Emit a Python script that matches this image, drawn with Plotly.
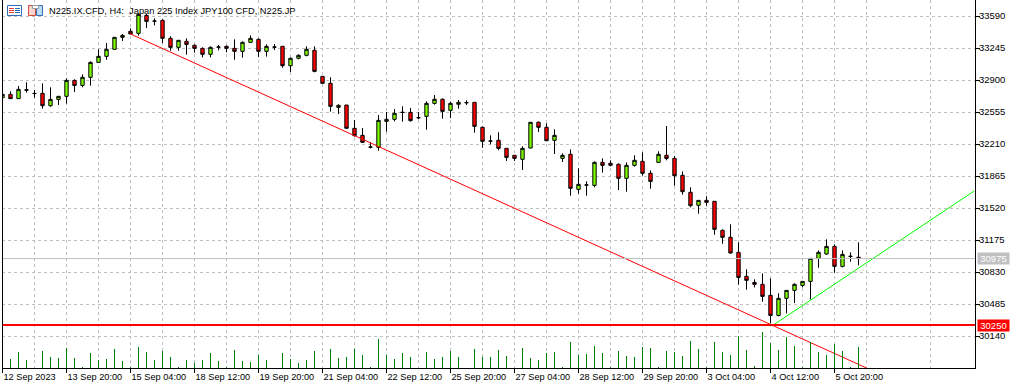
import plotly.graph_objects as go

opens = [32709,32745,32699,32796,32756,32756,32623,32691,32724,32896,32842,32929,33090,33155,33231,33360,33425,33403,33597,33536,33543,33349,33252,33317,33274,33241,33177,33256,33263,33241,33209,33306,33338,33209,33256,33263,33054,33134,33166,33220,32939,32864,32605,
32630,32379,32303,32178,32174,32454,32476,32552,32551,32495,32508,32648,32692,32573,32638,32657,32659,32390,32243,32250,32163,32088,32045,32167,32444,32390,32250,32055,32099,31721,31769,31764,32012,32002,31991,31840,31980,32023,31894,32012,32088,
32055,31872,31689,31549,31602,31592,31279,31204,31042,30783,30718,30697,30578,30362,30546,30632,30686,30729,30977,31024,31106,30891,31000,30989]
highs = [32745,32778,32835,32875,32792,32864,32821,32724,32918,32907,32961,33101,33231,33299,33360,33396,33457,33619,33612,33565,33554,33371,33328,33349,33284,33252,33263,33277,33274,33338,33317,33381,33349,33284,33288,33263,33144,33177,33263,33263,32939,32929,32637,
32630,32469,32382,32228,32523,32555,32587,32616,32598,32555,32670,32738,32702,32666,32684,32681,32659,32400,32303,32336,32163,32088,32185,32444,32454,32433,32368,32109,32152,31948,31807,32023,32055,32034,32002,32012,32088,32120,31926,32131,32404,
32080,31915,31743,31602,31646,31595,31290,31344,31150,30858,30751,30815,30761,30600,30632,30708,30729,30977,31063,31182,31128,31063,31042,31150]
lows = [32709,32699,32699,32764,32709,32591,32612,32630,32645,32771,32821,32839,33090,33119,33231,33320,33396,33378,33461,33489,33299,33216,33216,33173,33195,33144,33144,33220,33198,33119,33141,33306,33148,33152,33223,33033,32986,33123,33155,32983,32864,32559,32533,
32379,32289,32228,32163,32138,32343,32454,32451,32451,32476,32364,32634,32483,32490,32591,32630,32332,32170,32206,32142,32027,32027,31930,32163,32339,32239,32102,32016,31653,31674,31653,31743,31901,31969,31714,31696,31966,31869,31728,32009,32034,
31761,31664,31527,31459,31545,31232,31135,31027,30693,30639,30664,30510,30276,30352,30384,30495,30664,30535,30876,31017,30822,30880,30941,30902]
closes = [32745,32699,32799,32790,32754,32623,32691,32724,32896,32842,32929,33090,33155,33231,33360,33381,33396,33608,33532,33534,33349,33252,33328,33284,33241,33177,33252,33254,33241,33209,33306,33349,33209,33263,33254,33054,33134,33166,33231,32993,32864,32616,32627,
32379,32300,32228,32176,32465,32476,32541,32550,32462,32493,32648,32692,32562,32648,32659,32655,32400,32239,32241,32163,32066,32055,32163,32444,32390,32246,32303,32088,31732,31775,31767,32012,31980,31980,31840,31980,32034,31894,31807,32099,32055,
31868,31696,31545,31602,31581,31290,31204,31035,30772,30740,30697,30567,30362,30546,30632,30697,30729,30977,31042,31106,30891,31020,30998,30975]
volumes = [0,9,16,8,0,17,11,10,20,10,1,15,8,9,19,7,1,21,16,8,17,11,1,8,5,8,15,7,1,18,7,6,13,8,0,15,9,5,8,17,0,19,10,
11,19,13,1,29,13,9,15,11,0,16,9,11,17,11,0,19,11,11,18,12,0,20,10,8,15,16,1,26,13,14,22,15,1,17,12,11,21,20,1,17,16,
12,27,19,1,26,16,13,32,18,2,36,25,18,31,22,1,26,16,13,24,17,1,21]

bar_index = list(range(len(opens)))
time_tick_index = [0,8,16,24,32,40,48,56,64,72,80,88,96,104]
time_tick_labels = ["12 Sep 2023","13 Sep 20:00","15 Sep 04:00","18 Sep 12:00","19 Sep 20:00","21 Sep 04:00","22 Sep 12:00",
                    "25 Sep 20:00","27 Sep 04:00","28 Sep 12:00","29 Sep 20:00","3 Oct 04:00","4 Oct 12:00","5 Oct 20:00"]
grid_index = list(range(4, 124, 8))
price_ticks = [33590,33245,32900,32555,32210,31865,31520,31175,30830,30485,30140]
trend_down_x = [16, 108]
trend_down_y = [33396, 29795]
trend_up_x = [96.2, 121.46]
trend_up_y = [30250, 31703]
support_level = 30258
support_label = "30250"
bid_price = 30975
title_text = "N225.IX.CFD, H4:  Japan 225 Index JPY100 CFD, N225.JP"

FONT = "Liberation Sans"
GRID = "#c0c0c0"
BULL = "#7CFC00"
BEAR = "#FF0000"
x_range = [-0.0625, 121.5625]
y_range = [29795, 33762.5]
W, H, L, R, B = 1016, 389, 2, 41, 21
PW, PH = W - L - R, H - B

def px(x):
    return (x - L) / PW

def py(y):
    return 1 - y / PH

def box(x0, y0, x1, y1, line, fill=None):
    return dict(type="rect", xref="paper", yref="paper", x0=px(x0), x1=px(x1), y0=py(y0), y1=py(y1),
                line=dict(color=line, width=1), fillcolor=fill or "rgba(0,0,0,0)", layer="above")

def seg(x0, y0, x1, y1, color):
    return dict(type="line", xref="paper", yref="paper", x0=px(x0), x1=px(x1), y0=py(y0), y1=py(y1),
                line=dict(color=color, width=1), layer="above")

icon_shapes = [
    box(7.5, 5.5, 21.5, 15.5, "#2F6FB5", "#FFFFFF"),
    seg(9, 8.5, 14, 8.5, "#E0403A"), seg(9, 10.5, 14, 10.5, "#E0403A"), seg(9, 12.5, 14, 12.5, "#E0403A"),
    seg(15, 8.5, 20, 8.5, "#2F6FB5"), seg(15, 10.5, 20, 10.5, "#2F6FB5"), seg(15, 12.5, 20, 12.5, "#2F6FB5"),
    box(28.5, 5.5, 35.5, 15.5, "#D9483B", "#F8D5CC"),
    box(36.5, 5.5, 42.5, 15.5, "#2F6FB5", "#BFDDF2"),
    box(32.5, 5.5, 38.5, 8.5, "#9A9A9A", "#FFFFFF"),
    dict(type="line", xref="paper", yref="paper", x0=px(2.5), x1=px(2.5), y0=0, y1=1, line=dict(color="#000000", width=1), layer="above"),
]

fig = go.Figure()
fig.add_trace(go.Bar(x=bar_index, y=volumes, yaxis="y2", width=0.125, marker=dict(color="#008000", line=dict(width=0)), hoverinfo="skip"))
fig.add_trace(go.Candlestick(x=bar_index, open=opens, high=highs, low=lows, close=closes, whiskerwidth=0,
    increasing=dict(fillcolor=BULL, line=dict(color="#000000", width=1)),
    decreasing=dict(fillcolor=BEAR, line=dict(color="#000000", width=1))))
fig.add_trace(go.Scatter(x=trend_down_x, y=trend_down_y, mode="lines", line=dict(color="#FF0000", width=1), hoverinfo="skip"))
fig.add_trace(go.Scatter(x=trend_up_x, y=trend_up_y, mode="lines", line=dict(color="#00FF00", width=1), hoverinfo="skip"))
fig.add_trace(go.Scatter(x=x_range, y=[bid_price, bid_price], mode="lines", line=dict(color="#C0C0C0", width=1), hoverinfo="skip"))
fig.add_trace(go.Scatter(x=x_range, y=[support_level, support_level], mode="lines", line=dict(color="#FF0000", width=2), hoverinfo="skip"))

annotations = [
    dict(xref="paper", yref="y", x=px(977), y=bid_price, xanchor="left", yanchor="middle", text=str(bid_price), showarrow=False,
         font=dict(family=FONT, size=9.5, color="#FFFFFF"), bgcolor="#C0C0C0", width=31, height=11, borderpad=0),
    dict(xref="paper", yref="y", x=px(977), y=support_level, xanchor="left", yanchor="middle", text=support_label, showarrow=False,
         font=dict(family=FONT, size=9.5, color="#FFFFFF"), bgcolor="#FF0000", width=31, height=11, borderpad=0),
    dict(xref="paper", yref="paper", x=px(47), y=py(10.5), xanchor="left", yanchor="middle", text=title_text, showarrow=False,
         font=dict(family=FONT, size=9.3, color="#000000")),
]

fig.update_layout(
    width=W, height=H, margin=dict(l=L, r=R, t=0, b=B, pad=0, autoexpand=False),
    paper_bgcolor="#FFFFFF", plot_bgcolor="#FFFFFF", showlegend=False, boxgap=0.4, bargap=0,
    font=dict(family=FONT, size=9.5, color="#000000"), annotations=annotations, shapes=icon_shapes,
    xaxis=dict(range=x_range, tickmode="array", tickvals=time_tick_index, ticktext=time_tick_labels, tickangle=0,
               ticklabelposition="outside right", ticks="outside", ticklen=4, tickcolor="#000000", showline=True, linecolor="#000000",
               showgrid=True, gridcolor=GRID, griddash="3px,3px", gridwidth=1, zeroline=False, rangeslider=dict(visible=False),
               minor=dict(tickmode="array", tickvals=grid_index, showgrid=True, gridcolor=GRID, griddash="3px,3px", ticks=""),
               tickfont=dict(family=FONT, size=9.2)),
    yaxis=dict(range=y_range, side="right", tickmode="array", tickvals=price_ticks, ticktext=[str(v) for v in price_ticks],
               ticks="outside", ticklen=4, tickcolor="#000000", showline=True, linecolor="#000000", mirror=False, ticklabelstandoff=-3,
               showgrid=True, gridcolor=GRID, griddash="3px,3px", gridwidth=1, zeroline=False, tickfont=dict(family=FONT, size=9.5)),
    yaxis2=dict(overlaying="y", range=[0, 368], visible=False, fixedrange=True),
)
fig.write_html("out.html", post_script="document.body.style.margin='0';document.body.style.overflow='hidden';", config=dict(displayModeBar=False))
